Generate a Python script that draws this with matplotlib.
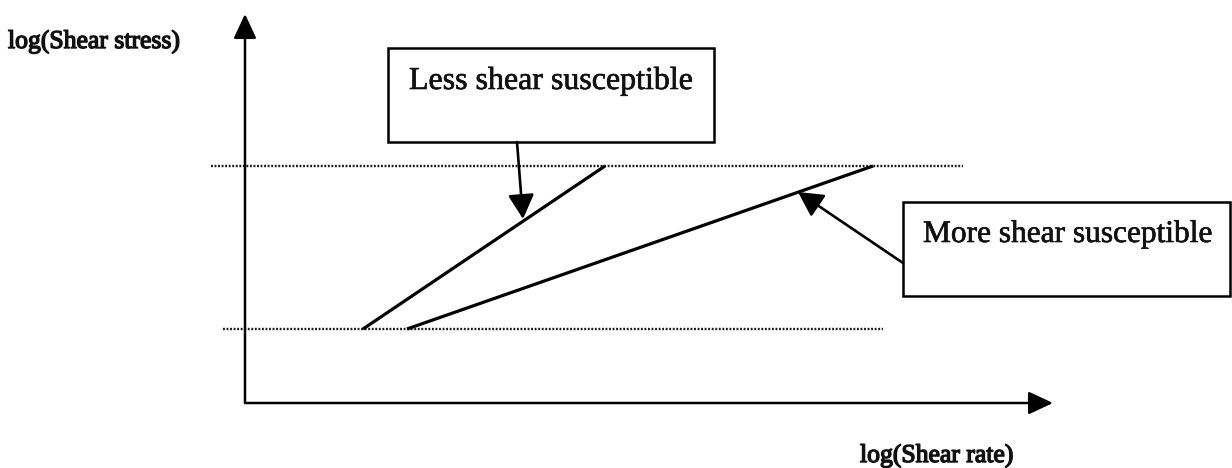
import matplotlib
matplotlib.use("Agg")
import matplotlib.pyplot as plt
import matplotlib.patheffects as pe
from matplotlib.patches import Rectangle

# ---------------- data (schematic, arbitrary log units) ----------------
stress_levels = [0.74, 2.37]            # lower / upper log(shear stress) levels
less_rate = [1.18, 3.60]                # log(shear rate) at lower / upper stress, less susceptible
more_rate = [1.62, 6.28]                # log(shear rate) at lower / upper stress, more susceptible
guide_x_lower = [-0.22, 6.38]           # extent of the dotted guide at the lower stress level
guide_x_upper = [-0.34, 7.18]           # extent of the dotted guide at the upper stress level
axis_x_end = 8.08
axis_y_end = 3.89
labels = ["Less shear susceptible", "More shear susceptible"]
x_label = "log(Shear rate)"
y_label = "log(Shear stress)"

# ---------------- figure ----------------
plt.rcParams['font.family'] = ['Liberation Serif', 'DejaVu Serif']
fig = plt.figure(figsize=(12.32, 4.68), dpi=100)
ax = fig.add_axes([0, 0, 1, 1])
ax.set_xlim(-2.45, 9.87)
ax.set_ylim(-0.65, 4.03)
ax.axis('off')

ink = '#111111'
heavy = [pe.withStroke(linewidth=0.45, foreground=ink)]
heavier = [pe.withStroke(linewidth=1.0, foreground=ink)]

# axes arrows
axis_arrow = dict(arrowstyle='-|>,head_length=0.75,head_width=0.35', color='black',
                  lw=1.8, shrinkA=0, shrinkB=0, mutation_scale=20)
ax.annotate('', xy=(0, axis_y_end), xytext=(0, 0), arrowprops=axis_arrow)
ax.annotate('', xy=(axis_x_end, 0), xytext=(0, 0), arrowprops=axis_arrow)

# dotted guide lines
ax.plot(guide_x_lower, [stress_levels[0]] * 2, color='#1a1a1a', lw=1.7, ls=(0, (0.8, 0.7)))
ax.plot(guide_x_upper, [stress_levels[1]] * 2, color='#1a1a1a', lw=1.7, ls=(0, (0.8, 0.7)))

# flow curves
ax.plot(less_rate, stress_levels, color='black', lw=2.3, solid_capstyle='butt')
ax.plot(more_rate, stress_levels, color='black', lw=2.3, solid_capstyle='butt')

# label boxes
box_kw = dict(fill=False, edgecolor='black', lw=1.8)
ax.add_patch(Rectangle((1.43, 2.61), 3.26, 0.94, **box_kw))
ax.add_patch(Rectangle((6.58, 1.07), 3.27, 0.94, **box_kw))
ax.text(1.64, 3.14, labels[0], fontsize=23, va='baseline', ha='left', color=ink,
        path_effects=heavy)
ax.text(6.78, 1.61, labels[1], fontsize=22.6, va='baseline', ha='left', color=ink,
        path_effects=heavy)

# pointer arrows
ptr = dict(arrowstyle='-|>,head_length=0.75,head_width=0.4', color='black',
           lw=1.9, shrinkA=0, shrinkB=0, mutation_scale=20)
ax.annotate('', xy=(2.78, 1.84), xytext=(2.72, 2.61), arrowprops=ptr)
ax.annotate('', xy=(5.53, 2.11), xytext=(6.58, 1.40), arrowprops=ptr)

# axis labels
ax.text(-2.37, 3.55, y_label, fontsize=18.5, va='baseline', ha='left', color=ink,
        path_effects=heavier)
ax.text(6.15, -0.59, x_label, fontsize=18.5, va='baseline', ha='left', color=ink,
        path_effects=heavier)

fig.savefig('out.png', dpi=100)
